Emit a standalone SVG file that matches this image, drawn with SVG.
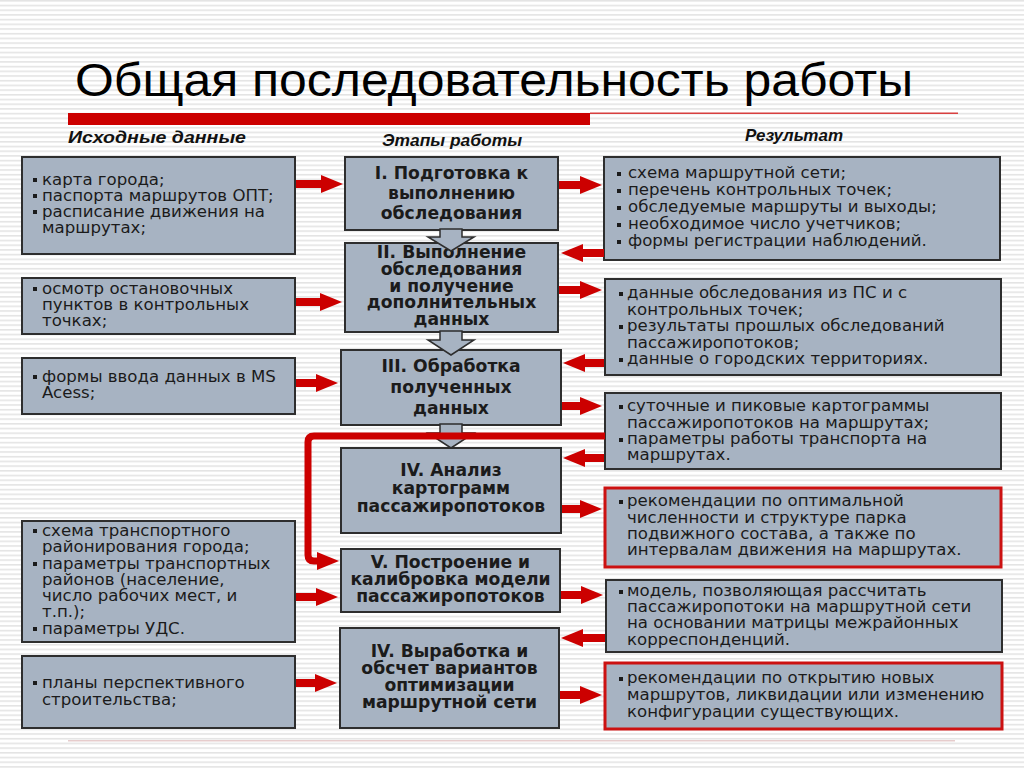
<svg xmlns="http://www.w3.org/2000/svg" width="1024" height="768" viewBox="0 0 1024 768">
<defs>
<pattern id="stripes" width="8" height="4.7" patternUnits="userSpaceOnUse">
<rect width="8" height="4.7" fill="#ffffff"/>
<rect y="0" width="8" height="1.6" fill="#e4e4e4"/>
</pattern>
<marker id="ah" viewBox="0 0 22 18" refX="1" refY="9" markerWidth="22" markerHeight="18" markerUnits="userSpaceOnUse" orient="auto">
<path d="M0,0 L22,9 L0,18 z" fill="#cc0000"/>
</marker>
<style>
.box{fill:#a7b3c2;stroke:#2e2e2e;stroke-width:2}
.rbox{fill:#a7b3c2;stroke:#cc1111;stroke-width:3}
.t{font-family:"DejaVu Sans",Verdana,sans-serif;font-size:16.6px;fill:#1b1b1b}
.b{font-family:"DejaVu Sans",Verdana,sans-serif;font-size:17.2px;font-weight:bold;fill:#1b1b1b;text-anchor:middle}
.h{font-family:"Liberation Sans",Arial,sans-serif;font-size:17px;font-weight:bold;font-style:italic;fill:#111}
.bl{fill:#1b1b1b}
.arr{stroke:#cc0000;stroke-width:8;fill:none;marker-end:url(#ah)}
.darr{fill:#a7b3c2;stroke:#2e2e2e;stroke-width:1.5}
</style>
</defs>
<rect width="1024" height="768" fill="url(#stripes)"/>

<g id="title">
<text x="75" y="96" font-family="'Liberation Sans',Arial,sans-serif" font-size="46" fill="#000" textLength="838" lengthAdjust="spacingAndGlyphs">Общая последовательность работы</text>
<rect x="68" y="113" width="522" height="12" fill="#cc0000"/>
<rect x="590" y="112.5" width="368" height="1.5" fill="#d84040"/>
</g>

<g id="headers">
<text class="h" x="68" y="143" textLength="178" lengthAdjust="spacingAndGlyphs">Исходные данные</text>
<text class="h" x="382" y="146" textLength="140" lengthAdjust="spacingAndGlyphs">Этапы работы</text>
<text class="h" x="745" y="141" textLength="98" lengthAdjust="spacingAndGlyphs">Результат</text>
</g>

<g id="bottom-line"><rect x="68" y="740" width="887" height="1.5" fill="#e6cccc"/></g>

<!-- Left column -->
<g id="in1">
<rect class="box" x="22" y="157" width="273" height="97"/>
<rect class="bl" x="33" y="178" width="4" height="4"/><rect class="bl" x="33" y="194" width="4" height="4"/><rect class="bl" x="33" y="210" width="4" height="4"/>
<text class="t"><tspan x="42" y="185">карта города;</tspan><tspan x="42" y="201">паспорта маршрутов ОПТ;</tspan><tspan x="42" y="217">расписание движения на</tspan><tspan x="42" y="233">маршрутах;</tspan></text>
</g>
<g id="in2">
<rect class="box" x="22" y="278" width="273" height="56"/>
<rect class="bl" x="33" y="287" width="4" height="4"/>
<text class="t"><tspan x="42" y="294">осмотр остановочных</tspan><tspan x="42" y="310">пунктов в контрольных</tspan><tspan x="42" y="326">точках;</tspan></text>
</g>
<g id="in3">
<rect class="box" x="22" y="358" width="273" height="56"/>
<rect class="bl" x="33" y="375" width="4" height="4"/>
<text class="t"><tspan x="42" y="382">формы ввода данных в MS</tspan><tspan x="42" y="398">Acess;</tspan></text>
</g>
<g id="in4">
<rect class="box" x="22" y="521" width="273" height="121"/>
<rect class="bl" x="33" y="529" width="4" height="4"/><rect class="bl" x="33" y="562" width="4" height="4"/><rect class="bl" x="33" y="627" width="4" height="4"/>
<text class="t"><tspan x="42" y="536">схема транспортного</tspan><tspan x="42" y="552">районирования города;</tspan><tspan x="42" y="569">параметры транспортных</tspan><tspan x="42" y="585">районов (население,</tspan><tspan x="42" y="601">число рабочих мест, и</tspan><tspan x="42" y="617">т.п.);</tspan><tspan x="42" y="634">параметры УДС.</tspan></text>
</g>
<g id="in5">
<rect class="box" x="22" y="656" width="273" height="72"/>
<rect class="bl" x="33" y="681" width="4" height="4"/>
<text class="t"><tspan x="42" y="688">планы перспективного</tspan><tspan x="42" y="705">строительства;</tspan></text>
</g>

<!-- Middle column -->
<g id="st1">
<rect class="box" x="345" y="157" width="213" height="73"/>
<text class="b"><tspan x="451.5" y="179">I. Подготовка к</tspan><tspan x="451.5" y="199">выполнению</tspan><tspan x="451.5" y="219">обследования</tspan></text>
</g>
<g id="st2">
<rect class="box" x="345" y="243" width="213" height="89"/>
<text class="b"><tspan x="451.5" y="258">II. Выполнение</tspan><tspan x="451.5" y="275">обследования</tspan><tspan x="451.5" y="292">и получение</tspan><tspan x="451.5" y="308">дополнительных</tspan><tspan x="451.5" y="325">данных</tspan></text>
</g>
<g id="st3">
<rect class="box" x="341" y="350" width="220" height="75"/>
<text class="b"><tspan x="451" y="372">III. Обработка</tspan><tspan x="451" y="393">полученных</tspan><tspan x="451" y="414">данных</tspan></text>
</g>
<g id="st4">
<rect class="box" x="341" y="448" width="220" height="85"/>
<text class="b"><tspan x="451" y="476">IV. Анализ</tspan><tspan x="451" y="494">картограмм</tspan><tspan x="451" y="512">пассажиропотоков</tspan></text>
</g>
<g id="st5">
<rect class="box" x="341" y="549" width="219" height="63"/>
<text class="b"><tspan x="450.5" y="568">V. Построение и</tspan><tspan x="450.5" y="585">калибровка модели</tspan><tspan x="450.5" y="602">пассажиропотоков</tspan></text>
</g>
<g id="st6">
<rect class="box" x="340" y="628" width="219" height="100"/>
<text class="b"><tspan x="449.5" y="657">IV. Выработка и</tspan><tspan x="449.5" y="674">обсчет вариантов</tspan><tspan x="449.5" y="691">оптимизации</tspan><tspan x="449.5" y="708">маршрутной сети</tspan></text>
</g>

<!-- Right column -->
<g id="out1">
<rect class="box" x="604" y="157" width="396" height="103"/>
<rect class="bl" x="617" y="172" width="4" height="4"/><rect class="bl" x="617" y="189" width="4" height="4"/><rect class="bl" x="617" y="206" width="4" height="4"/><rect class="bl" x="617" y="223" width="4" height="4"/><rect class="bl" x="617" y="240" width="4" height="4"/>
<text class="t"><tspan x="628" y="178">схема маршрутной сети;</tspan><tspan x="628" y="195">перечень контрольных точек;</tspan><tspan x="628" y="212">обследуемые маршруты и выходы;</tspan><tspan x="628" y="229">необходимое число учетчиков;</tspan><tspan x="628" y="246">формы регистрации наблюдений.</tspan></text>
</g>
<g id="out2">
<rect class="box" x="605" y="279" width="396" height="96"/>
<rect class="bl" x="619" y="292" width="4" height="4"/><rect class="bl" x="619" y="325" width="4" height="4"/><rect class="bl" x="619" y="358" width="4" height="4"/>
<text class="t"><tspan x="627" y="298">данные обследования из ПС и с</tspan><tspan x="627" y="315">контрольных точек;</tspan><tspan x="627" y="331">результаты прошлых обследований</tspan><tspan x="627" y="348">пассажиропотоков;</tspan><tspan x="627" y="364">данные о городских территориях.</tspan></text>
</g>
<g id="out3">
<rect class="box" x="605" y="393" width="396" height="76"/>
<rect class="bl" x="619" y="405" width="4" height="4"/><rect class="bl" x="619" y="438" width="4" height="4"/>
<text class="t"><tspan x="627" y="411">суточные и пиковые картограммы</tspan><tspan x="627" y="428">пассажиропотоков на маршрутах;</tspan><tspan x="627" y="444">параметры работы транспорта на</tspan><tspan x="627" y="460">маршрутах.</tspan></text>
</g>
<g id="out4">
<rect class="rbox" x="605" y="488" width="396" height="79"/>
<rect class="bl" x="619" y="500" width="4" height="4"/>
<text class="t"><tspan x="627" y="506">рекомендации по оптимальной</tspan><tspan x="627" y="523">численности и структуре парка</tspan><tspan x="627" y="539">подвижного состава, а также по</tspan><tspan x="627" y="555">интервалам движения на маршрутах.</tspan></text>
</g>
<g id="out5">
<rect class="box" x="606" y="580" width="396" height="72"/>
<rect class="bl" x="619" y="590" width="4" height="4"/>
<text class="t"><tspan x="627" y="596">модель, позволяющая рассчитать</tspan><tspan x="627" y="612">пассажиропотоки на маршрутной сети</tspan><tspan x="627" y="628">на основании матрицы межрайонных</tspan><tspan x="627" y="645">корреспонденций.</tspan></text>
</g>
<g id="out6">
<rect class="rbox" x="605" y="663" width="397" height="66"/>
<rect class="bl" x="619" y="677" width="4" height="4"/>
<text class="t"><tspan x="627" y="683">рекомендации по открытию новых</tspan><tspan x="627" y="700">маршрутов, ликвидации или изменению</tspan><tspan x="627" y="717">конфигурации существующих.</tspan></text>
</g>

<g id="connectors">
<!-- gray down arrows between stages -->
<polygon class="darr" points="440,229 462,229 462,237 474,237 451,251 428,237 440,237"/>
<polygon class="darr" points="440,331 462,331 462,340 474,340 451,355 428,340 440,340"/>
<polygon class="darr" points="440,424 462,424 462,433 474,433 451,448 428,433 440,433"/>
<!-- inputs to stages -->
<line class="arr" x1="296" y1="184" x2="322" y2="184"/>
<line class="arr" x1="296" y1="302" x2="321" y2="302"/>
<line class="arr" x1="296" y1="383" x2="317" y2="383"/>
<line class="arr" x1="296" y1="597" x2="317" y2="597"/>
<line class="arr" x1="296" y1="683" x2="316" y2="683"/>
<!-- stages to results -->
<line class="arr" x1="559" y1="185" x2="581" y2="185"/>
<line class="arr" x1="559" y1="290" x2="581" y2="290"/>
<line class="arr" x1="562" y1="406" x2="581" y2="406"/>
<line class="arr" x1="562" y1="509" x2="581" y2="509"/>
<line class="arr" x1="561" y1="595" x2="582" y2="595"/>
<line class="arr" x1="560" y1="695" x2="581" y2="695"/>
<!-- results back to stages -->
<line class="arr" x1="604" y1="253" x2="582" y2="253"/>
<line class="arr" x1="604" y1="363" x2="584" y2="363"/>
<line class="arr" x1="604" y1="458" x2="584" y2="458"/>
<line class="arr" x1="605" y1="638" x2="582" y2="638"/>
<!-- loop connector from result 3 to stage V -->
<path d="M605,436 L314,436 Q308,436 308,442 L308,555 Q308,561 314,561 L318,561" stroke="#cc0000" stroke-width="7" fill="none" stroke-linejoin="round" marker-end="url(#ah)"/>
</g>
</svg>
